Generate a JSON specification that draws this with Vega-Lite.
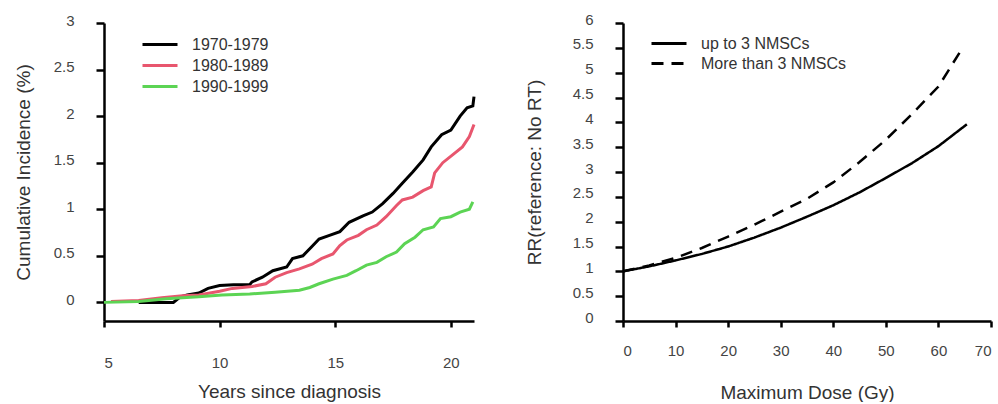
{
  "$schema": "https://vega.github.io/schema/vega-lite/v6.json",
  "padding": {"left": 14, "top": 12, "right": 0, "bottom": 0},
  "spacing": 45,
  "config": {
    "view": {"stroke": null},
    "font": "Liberation Sans",
    "axis": {
      "domainColor": "#000", "domainWidth": 2.5, "tickColor": "#000", "tickWidth": 2.5, "tickSize": 8,
      "labelColor": "#444", "labelFontSize": 15, "labelFont": "Liberation Sans",
      "titleColor": "#333", "titleFontSize": 19, "titleFontWeight": "normal", "titleFont": "Liberation Sans",
      "grid": false
    },
    "legend": {"labelFontSize": 16, "labelColor": "#333", "labelFont": "Liberation Sans"}
  },
  "datasets": {
    "incidence": [
      {"period": "1970-1979", "years": 6.5, "ci": 0},
      {"period": "1970-1979", "years": 8.0, "ci": 0},
      {"period": "1970-1979", "years": 8.3, "ci": 0.06},
      {"period": "1970-1979", "years": 8.6, "ci": 0.08},
      {"period": "1970-1979", "years": 9.1, "ci": 0.1},
      {"period": "1970-1979", "years": 9.5, "ci": 0.15},
      {"period": "1970-1979", "years": 10.0, "ci": 0.18},
      {"period": "1970-1979", "years": 10.6, "ci": 0.19},
      {"period": "1970-1979", "years": 11.3, "ci": 0.19},
      {"period": "1970-1979", "years": 11.4, "ci": 0.22},
      {"period": "1970-1979", "years": 11.85, "ci": 0.27},
      {"period": "1970-1979", "years": 12.3, "ci": 0.34},
      {"period": "1970-1979", "years": 12.9, "ci": 0.38},
      {"period": "1970-1979", "years": 13.15, "ci": 0.47},
      {"period": "1970-1979", "years": 13.6, "ci": 0.5},
      {"period": "1970-1979", "years": 13.95, "ci": 0.59},
      {"period": "1970-1979", "years": 14.3, "ci": 0.68},
      {"period": "1970-1979", "years": 14.75, "ci": 0.72},
      {"period": "1970-1979", "years": 15.2, "ci": 0.76},
      {"period": "1970-1979", "years": 15.6, "ci": 0.86},
      {"period": "1970-1979", "years": 16.2, "ci": 0.93},
      {"period": "1970-1979", "years": 16.6, "ci": 0.97},
      {"period": "1970-1979", "years": 17.05, "ci": 1.06},
      {"period": "1970-1979", "years": 17.5, "ci": 1.17},
      {"period": "1970-1979", "years": 17.9, "ci": 1.28},
      {"period": "1970-1979", "years": 18.35, "ci": 1.4},
      {"period": "1970-1979", "years": 18.8, "ci": 1.53},
      {"period": "1970-1979", "years": 19.15, "ci": 1.67},
      {"period": "1970-1979", "years": 19.6, "ci": 1.8},
      {"period": "1970-1979", "years": 20.0, "ci": 1.85},
      {"period": "1970-1979", "years": 20.4, "ci": 2.0},
      {"period": "1970-1979", "years": 20.7, "ci": 2.09},
      {"period": "1970-1979", "years": 20.95, "ci": 2.11},
      {"period": "1970-1979", "years": 21.0, "ci": 2.21},
      {"period": "1980-1989", "years": 5.3, "ci": 0.01},
      {"period": "1980-1989", "years": 6.5, "ci": 0.02},
      {"period": "1980-1989", "years": 7.5, "ci": 0.05},
      {"period": "1980-1989", "years": 8.4, "ci": 0.07},
      {"period": "1980-1989", "years": 9.1, "ci": 0.08},
      {"period": "1980-1989", "years": 10.0, "ci": 0.12},
      {"period": "1980-1989", "years": 10.55, "ci": 0.15},
      {"period": "1980-1989", "years": 11.4, "ci": 0.17},
      {"period": "1980-1989", "years": 12.0, "ci": 0.2},
      {"period": "1980-1989", "years": 12.4, "ci": 0.27},
      {"period": "1980-1989", "years": 12.9, "ci": 0.32},
      {"period": "1980-1989", "years": 13.45, "ci": 0.36},
      {"period": "1980-1989", "years": 14.0, "ci": 0.41},
      {"period": "1980-1989", "years": 14.4, "ci": 0.47},
      {"period": "1980-1989", "years": 14.9, "ci": 0.52},
      {"period": "1980-1989", "years": 15.2, "ci": 0.61},
      {"period": "1980-1989", "years": 15.5, "ci": 0.67},
      {"period": "1980-1989", "years": 16.0, "ci": 0.72},
      {"period": "1980-1989", "years": 16.35, "ci": 0.78},
      {"period": "1980-1989", "years": 16.8, "ci": 0.83},
      {"period": "1980-1989", "years": 17.2, "ci": 0.92},
      {"period": "1980-1989", "years": 17.65, "ci": 1.04},
      {"period": "1980-1989", "years": 17.9, "ci": 1.1},
      {"period": "1980-1989", "years": 18.35, "ci": 1.13},
      {"period": "1980-1989", "years": 18.8, "ci": 1.2},
      {"period": "1980-1989", "years": 19.15, "ci": 1.24},
      {"period": "1980-1989", "years": 19.3, "ci": 1.39},
      {"period": "1980-1989", "years": 19.65, "ci": 1.5},
      {"period": "1980-1989", "years": 20.1, "ci": 1.59},
      {"period": "1980-1989", "years": 20.5, "ci": 1.67},
      {"period": "1980-1989", "years": 20.8, "ci": 1.78},
      {"period": "1980-1989", "years": 21.0, "ci": 1.91},
      {"period": "1990-1999", "years": 5.0, "ci": 0},
      {"period": "1990-1999", "years": 6.5, "ci": 0.01},
      {"period": "1990-1999", "years": 7.7, "ci": 0.04},
      {"period": "1990-1999", "years": 9.1, "ci": 0.06},
      {"period": "1990-1999", "years": 10.1, "ci": 0.08},
      {"period": "1990-1999", "years": 11.3, "ci": 0.09},
      {"period": "1990-1999", "years": 12.4, "ci": 0.11},
      {"period": "1990-1999", "years": 13.45, "ci": 0.13},
      {"period": "1990-1999", "years": 13.9, "ci": 0.16},
      {"period": "1990-1999", "years": 14.3, "ci": 0.2},
      {"period": "1990-1999", "years": 14.9, "ci": 0.25},
      {"period": "1990-1999", "years": 15.5, "ci": 0.29},
      {"period": "1990-1999", "years": 15.9, "ci": 0.34},
      {"period": "1990-1999", "years": 16.35, "ci": 0.4},
      {"period": "1990-1999", "years": 16.8, "ci": 0.43},
      {"period": "1990-1999", "years": 17.2, "ci": 0.49},
      {"period": "1990-1999", "years": 17.65, "ci": 0.54},
      {"period": "1990-1999", "years": 18.0, "ci": 0.63},
      {"period": "1990-1999", "years": 18.45, "ci": 0.7},
      {"period": "1990-1999", "years": 18.8, "ci": 0.78},
      {"period": "1990-1999", "years": 19.25, "ci": 0.81},
      {"period": "1990-1999", "years": 19.55, "ci": 0.9},
      {"period": "1990-1999", "years": 20.0, "ci": 0.92},
      {"period": "1990-1999", "years": 20.4, "ci": 0.97},
      {"period": "1990-1999", "years": 20.8, "ci": 1.0},
      {"period": "1990-1999", "years": 20.95, "ci": 1.08}
    ],
    "rr": [
      {"group": "up to 3 NMSCs", "dose": 0, "rr": 1.0},
      {"group": "up to 3 NMSCs", "dose": 5, "rr": 1.1},
      {"group": "up to 3 NMSCs", "dose": 10, "rr": 1.22},
      {"group": "up to 3 NMSCs", "dose": 15, "rr": 1.35},
      {"group": "up to 3 NMSCs", "dose": 20, "rr": 1.5},
      {"group": "up to 3 NMSCs", "dose": 25, "rr": 1.68},
      {"group": "up to 3 NMSCs", "dose": 30, "rr": 1.88},
      {"group": "up to 3 NMSCs", "dose": 35, "rr": 2.1},
      {"group": "up to 3 NMSCs", "dose": 40, "rr": 2.33},
      {"group": "up to 3 NMSCs", "dose": 45, "rr": 2.59},
      {"group": "up to 3 NMSCs", "dose": 50, "rr": 2.88},
      {"group": "up to 3 NMSCs", "dose": 55, "rr": 3.18},
      {"group": "up to 3 NMSCs", "dose": 60, "rr": 3.52},
      {"group": "up to 3 NMSCs", "dose": 65.4, "rr": 3.96},
      {"group": "More than 3 NMSCs", "dose": 0, "rr": 1.0},
      {"group": "More than 3 NMSCs", "dose": 5, "rr": 1.12},
      {"group": "More than 3 NMSCs", "dose": 10, "rr": 1.27},
      {"group": "More than 3 NMSCs", "dose": 15, "rr": 1.47},
      {"group": "More than 3 NMSCs", "dose": 20, "rr": 1.7},
      {"group": "More than 3 NMSCs", "dose": 25, "rr": 1.94},
      {"group": "More than 3 NMSCs", "dose": 30, "rr": 2.2},
      {"group": "More than 3 NMSCs", "dose": 35, "rr": 2.46},
      {"group": "More than 3 NMSCs", "dose": 40, "rr": 2.79},
      {"group": "More than 3 NMSCs", "dose": 45, "rr": 3.2},
      {"group": "More than 3 NMSCs", "dose": 50, "rr": 3.65},
      {"group": "More than 3 NMSCs", "dose": 55, "rr": 4.17},
      {"group": "More than 3 NMSCs", "dose": 60, "rr": 4.72},
      {"group": "More than 3 NMSCs", "dose": 64, "rr": 5.4}
    ]
  },
  "hconcat": [
    {
      "width": 370,
      "height": 298,
      "data": {"name": "incidence"},
      "mark": {"type": "line", "strokeWidth": 3},
      "encoding": {
        "x": {
          "field": "years", "type": "quantitative",
          "scale": {"domain": [5, 21], "nice": false, "zero": false},
          "axis": {"title": "Years since diagnosis", "values": [5, 10, 15, 20], "labelPadding": 28, "titlePadding": 12, "tickSize": 6}
        },
        "y": {
          "field": "ci", "type": "quantitative",
          "scale": {"domain": [-0.2, 3], "nice": false, "zero": false},
          "axis": {"title": "Cumulative Incidence (%)", "values": [0, 0.5, 1, 1.5, 2, 2.5, 3], "format": ".1~f", "labelPadding": 22, "titlePadding": 20, "labelOffset": -3}
        },
        "color": {
          "field": "period", "type": "nominal",
          "scale": {"domain": ["1970-1979", "1980-1989", "1990-1999"], "range": ["#000000", "#e8566e", "#5cd454"]},
          "legend": {
            "title": null, "orient": "none", "legendX": 44, "legendY": 9.5,
            "symbolType": "M-1.667,0H1.667", "symbolSize": 441, "symbolStrokeWidth": 3,
            "labelOffset": 20, "rowPadding": 1
          }
        }
      }
    },
    {
      "width": 368,
      "height": 298,
      "data": {"name": "rr"},
      "mark": {"type": "line", "color": "#000", "strokeWidth": 2.5},
      "encoding": {
        "x": {
          "field": "dose", "type": "quantitative",
          "scale": {"domain": [0, 70], "nice": false},
          "axis": {"title": "Maximum Dose (Gy)", "values": [0, 10, 20, 30, 40, 50, 60, 70], "labelPadding": 16, "titlePadding": 25, "tickSize": 6}
        },
        "y": {
          "field": "rr", "type": "quantitative",
          "scale": {"domain": [0, 6], "nice": false},
          "axis": {"title": "RR(reference: No RT)", "values": [0, 0.5, 1, 1.5, 2, 2.5, 3, 3.5, 4, 4.5, 5, 5.5, 6], "format": ".1~f", "labelPadding": 22, "titlePadding": 28, "labelOffset": -4}
        },
        "strokeDash": {
          "field": "group", "type": "nominal",
          "scale": {"domain": ["up to 3 NMSCs", "More than 3 NMSCs"], "range": [[1, 0], [12, 8]]},
          "legend": {
            "title": null, "orient": "none", "legendX": 553, "legendY": 8.5,
            "symbolType": "M-1.667,0H1.667", "symbolSize": 441, "symbolStrokeWidth": 3, "symbolStrokeColor": "#000",
            "labelOffset": 20, "rowPadding": 0, "labelFontSize": 16
          }
        }
      }
    }
  ]
}
